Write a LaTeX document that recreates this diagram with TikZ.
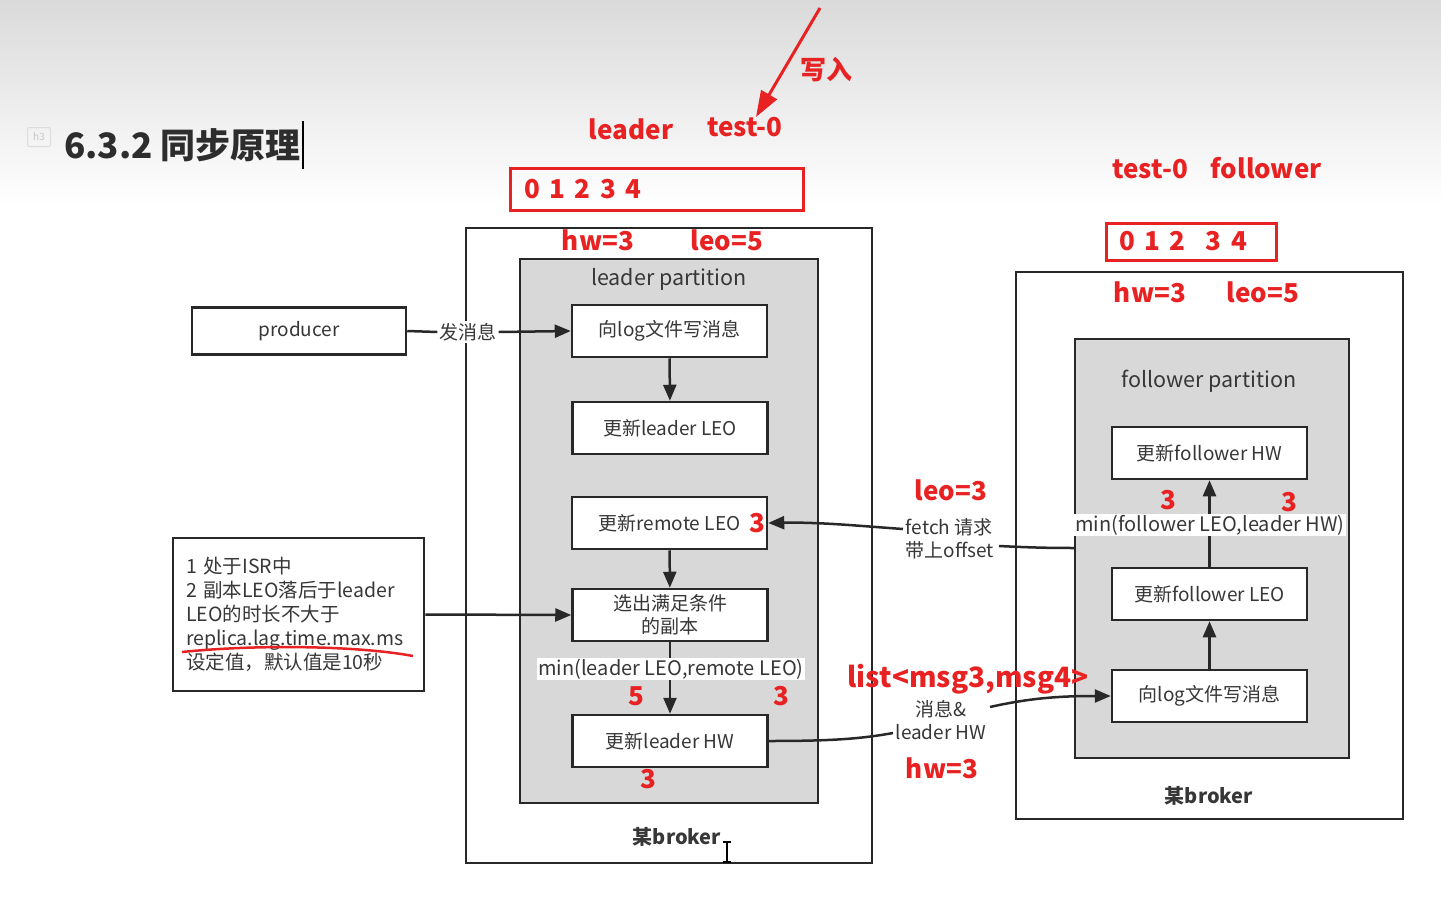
\documentclass[tikz,border=0pt]{standalone}
\usepackage{fontspec}
\setmainfont{Noto Sans CJK SC}
\usetikzlibrary{arrows.meta}
\definecolor{hl}{RGB}{232,34,34}
\definecolor{boxline}{RGB}{40,40,40}
\definecolor{txt}{RGB}{55,55,55}
\definecolor{part}{RGB}{216,216,216}
\definecolor{ttl}{RGB}{45,45,45}
\tikzset{
  box/.style={draw=boxline, line width=2.5pt, fill=white, minimum width=195pt, minimum height=52pt, text=txt, font=\fontsize{19}{23}\selectfont, align=center, inner sep=0pt},
  outerbox/.style={draw=boxline, line width=2.5pt, fill=white},
  partbox/.style={draw=boxline, line width=2.5pt, fill=part},
  redt/.style={text=hl, font=\fontsize{26}{30}\selectfont\bfseries, inner sep=0pt},
  redn/.style={text=hl, font=\fontsize{26}{30}\selectfont\bfseries, inner sep=0pt},
  plain/.style={text=txt, font=\fontsize{19}{23}\selectfont, inner sep=1pt},
  conn/.style={draw=boxline, line width=2.5pt},
  arr/.style={conn, -{Triangle[length=16pt,width=13pt]}},
  wlabel/.style={fill=white, text=txt, font=\fontsize{19}{23}\selectfont, inner sep=2pt, align=center},
}
\newcommand{\dsp}{\hspace{9.5pt}}
\begin{document}
\begin{tikzpicture}[x=1pt,y=-1pt]
\useasboundingbox (0,0) rectangle (1441,905);
\fill[white] (0,0) rectangle (1441,905);
\shade[top color={rgb,255:red,218;green,218;blue,218}, bottom color=white] (0,0) rectangle (1441,205);

% title
\node[draw={rgb,255:red,220;green,220;blue,220}, line width=1pt, rounded corners=2pt, minimum width=23pt, minimum height=19pt, inner sep=0pt, text={rgb,255:red,200;green,200;blue,200}, font=\fontsize{10}{12}\selectfont] (h3) at (39,137) {h3};
\node[anchor=west, inner sep=0pt, text=ttl, font=\fontsize{35}{40}\selectfont\bfseries] (title) at (64,145) {6.3.2 同步原理};
\draw[line width=1.5pt, black] (title.east) ++(2,-24) coordinate (cur1) -- ++(0,48);

% left broker
\draw[outerbox] (466,228) rectangle (872,863);
\draw[partbox] (520,259) rectangle (818,803);
\node[plain, font=\fontsize{21.5}{25}\selectfont] (lp) at (669,279) {leader partition};
\node[plain, font=\fontsize{20}{24}\selectfont\bfseries] (lb) at (677,837) {某broker};
\draw[line width=1.5pt, black] (727,842) -- (727,862) (723,842) -- (731,842) (723,862) -- (731,862);

% right broker
\draw[outerbox] (1016,272) rectangle (1403,819);
\draw[partbox] (1075,339) rectangle (1349,758);
\node[plain, font=\fontsize{21.5}{25}\selectfont] (fp) at (1209,381) {follower partition};
\node[plain, font=\fontsize{20}{24}\selectfont\bfseries] (rb) at (1209,796) {某broker};

% leader boxes
\node[box] (b1) at (669.5,331) {向log文件写消息};
\node[box] (b2) at (670,428) {更新leader LEO};
\node[box] (b3) at (669.5,523) {更新remote LEO};
\node[box] (b4) at (670,615) {选出满足条件\\的副本};
\node[box] (b5) at (670,741) {更新leader HW};

% follower boxes
\node[box] (f1) at (1209.5,453) {更新follower HW};
\node[box] (f2) at (1209.5,594) {更新follower LEO};
\node[box] (f3) at (1209.5,696) {向log文件写消息};

% producer and note
\node[box, minimum width=214pt, minimum height=47pt] (prod) at (299,331) {producer};
\node[box, minimum width=251pt, minimum height=153pt, text width=225pt, align=left, font=\fontsize{19.5}{24}\selectfont] (note) at (298.5,614.5) {1 处于ISR中\\2 副本LEO落后于leader\\LEO的时长不大于\\replica.lag.time.max.ms\\设定值，默认值是10秒};
\draw[hl, line width=2.5pt] (182,652) .. controls (260,644) and (360,646) .. (413,656);

% connectors inside leader
\draw[arr] (b1) -- (b2);
\draw[arr] (b3) -- (b4);
\draw[arr] (b4) -- (b5);
\node[wlabel, inner sep=1pt, font=\fontsize{20}{24}\selectfont] (minl) at (671,669) {min(leader LEO,remote LEO)};

% connectors inside follower
\draw[arr] (f3) -- (f2);
\draw[arr] (f2) -- (f1);
\node[wlabel, inner sep=1pt, font=\fontsize{20}{24}\selectfont] (minf) at (1210,525) {min(follower LEO,leader HW)};

% producer -> b1
\node[wlabel] (fa) at (468,332) {发消息};
\draw[conn] (prod.east) -- (fa.west);
\draw[arr] (fa.east) -- (b1.west);

% note -> b4
\draw[arr] (note.east) -- (b4.west);

% fetch request
\node[wlabel, fill=none, align=left] (fetch) at (950,539) {fetch 请求\\带上offset};
\coordinate (fs) at (1075,548);
\coordinate (fe1) at (999,546);
\coordinate (fe2) at (903,529);
\draw[conn] (fs) .. controls (1040,548) and (1020,547) .. (fe1);
\draw[arr] (fe2) .. controls (860,526) and (820,522) .. (b3.east);

% message & leader HW
\node[wlabel, fill=none] (msg) at (941,720) {消息\&\\leader HW};
\coordinate (m1) at (893,733);
\coordinate (m2) at (990,707);
\draw[conn] (b5.east) .. controls (830,741) and (860,739) .. (m1);
\draw[arr] (m2) .. controls (1030,698) and (1060,696) .. (f3.west);

% red annotations
\coordinate (w0) at (820,8);
\coordinate (w1) at (756,117);
\draw[hl, line width=3pt, -{Triangle[length=26pt,width=18pt]}] (w0) -- (w1);
\node[redt] (xr) at (826,70) {写入};
\node[redt] (rl) at (631,129) {leader};
\node[redt] (rt) at (745,127) {test-0};
\node[draw=hl, line width=3pt, minimum width=293pt, minimum height=42pt, inner sep=0pt] (lbox) at (656.5,189) {};
\node[redt, anchor=west] (lnum) at (524,189) {0\dsp1\dsp2\dsp3\dsp4};
\node[redt] (lhw) at (598,240) {hw=3};
\node[redt] (lleo) at (727,240) {leo=5};

\node[redt] (ft) at (1217,168) {test-0\hspace{23pt}follower};
\node[draw=hl, line width=3pt, minimum width=170pt, minimum height=37pt, inner sep=0pt] (fbox) at (1191,241.5) {};
\node[redt, anchor=west] (fnum) at (1119,241) {0\dsp1\dsp2\hspace{20pt}3\dsp4};
\node[redt] (fhw) at (1150,292) {hw=3};
\node[redt] (fleo) at (1263,292) {leo=5};

\node[redn] (r3a) at (757,523) {3};
\node[redn] (r5) at (636,696) {5};
\node[redn] (r3b) at (781,696) {3};
\node[redn] (r3c) at (648,779) {3};
\node[redn] (r3d) at (1168,500) {3};
\node[redn] (r3e) at (1289,502) {3};
\node[redt] (leo3) at (951,490) {leo=3};
\node[redt, font=\fontsize{28}{32}\selectfont\bfseries] (lst) at (968,679) {list<msg3,msg4>};
\node[redt] (hw3) at (942,768) {hw=3};
\end{tikzpicture}
\end{document}
